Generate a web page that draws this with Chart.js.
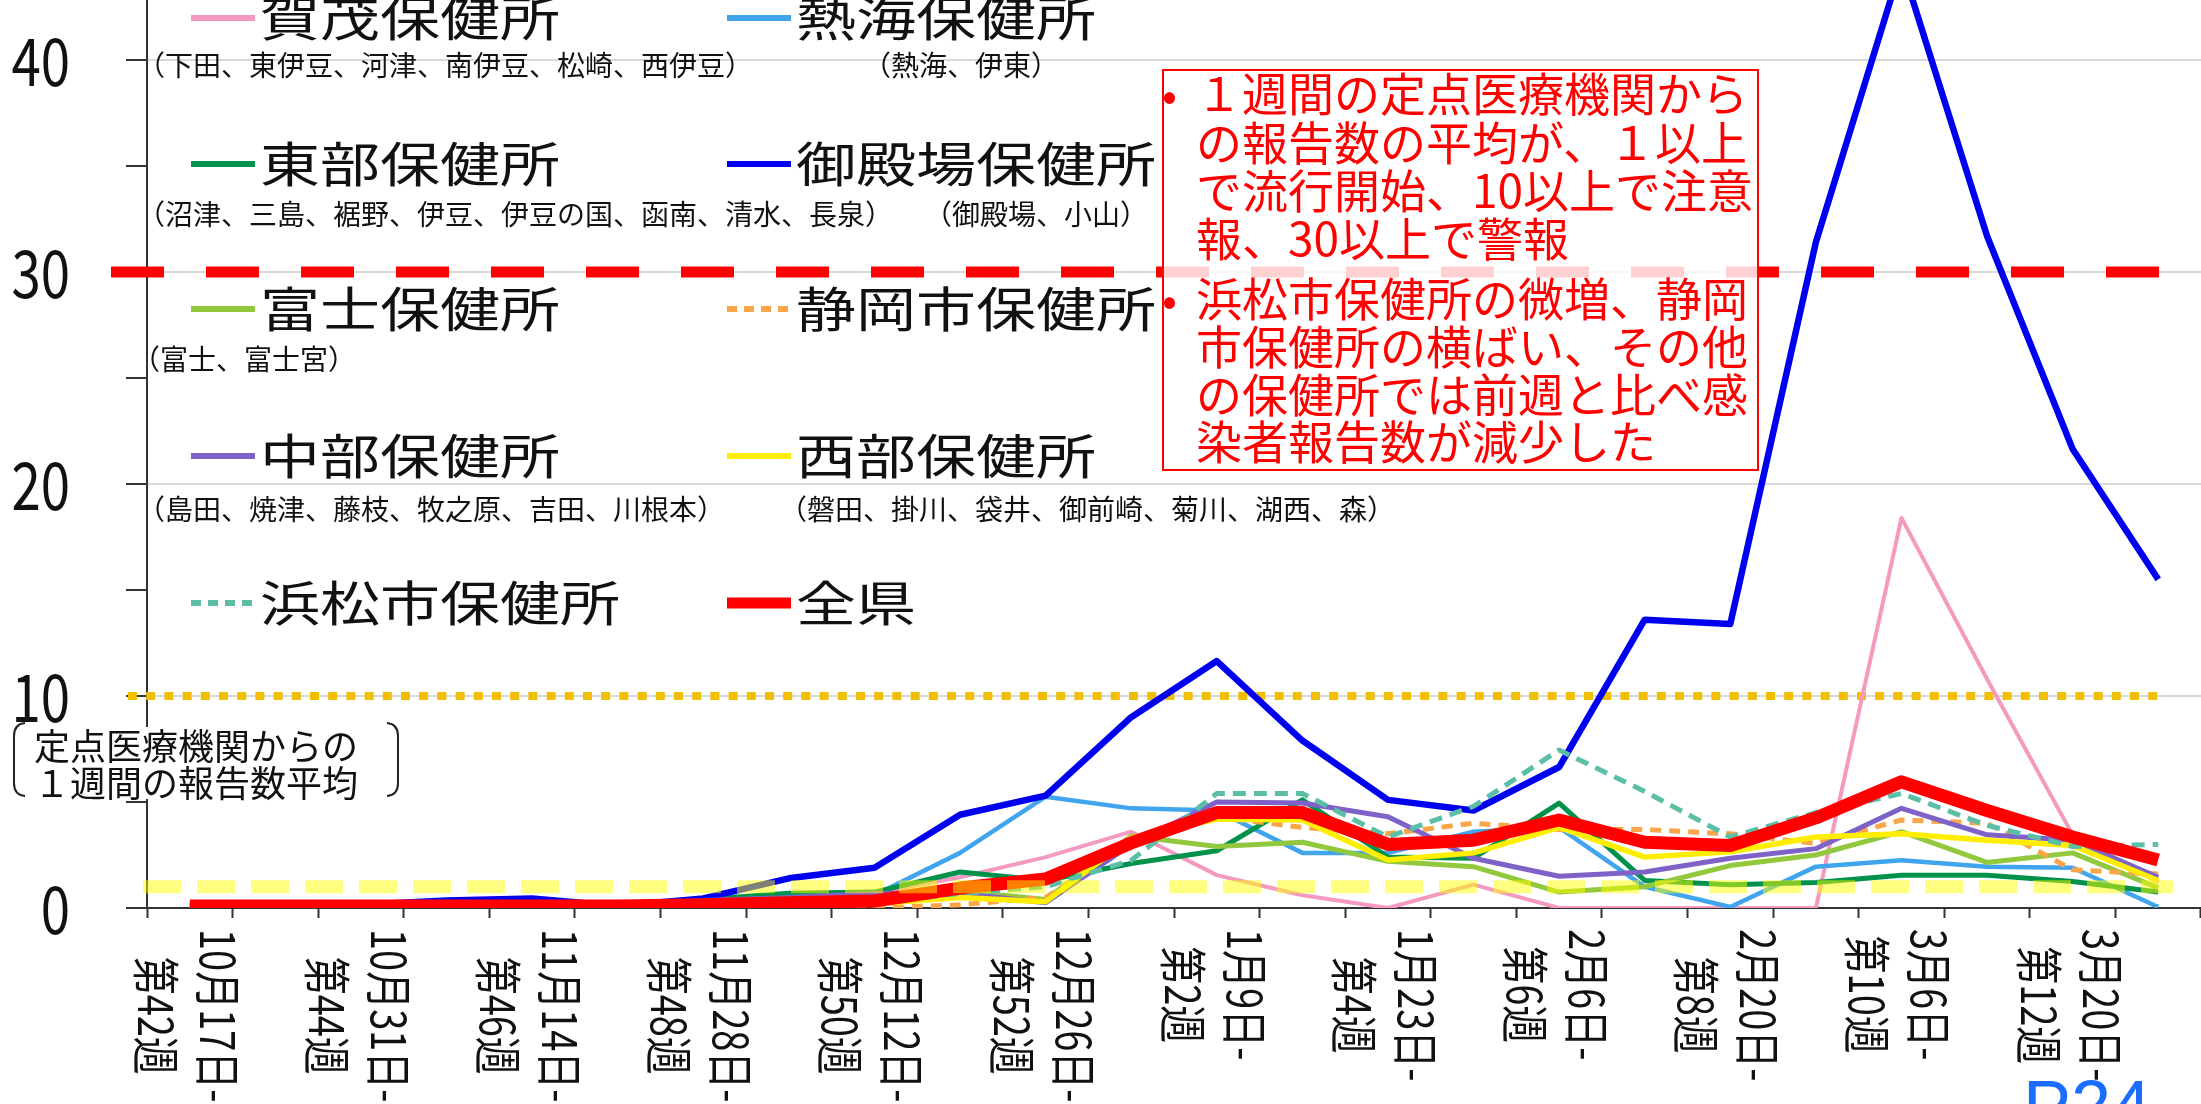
<!DOCTYPE html>
<html>
<head>
<meta charset="utf-8">
<script src="https://cdn.jsdelivr.net/npm/chart.js@4.4.1/dist/chart.umd.min.js"></script>
<style>
html, body { margin: 0; padding: 0; background: #fff; }
#wrap { width: 2201px; height: 1104px; }
</style>
</head>
<body>
<div id="wrap"><canvas id="myChart" width="2201" height="1104"></canvas></div>
<script>
//週ラベル（横軸）
const weekLabels = ['第42週','第43週','第44週','第45週','第46週','第47週','第48週','第49週','第50週','第51週','第52週',
  '第1週','第2週','第3週','第4週','第5週','第6週','第7週','第8週','第9週','第10週','第11週','第12週','第13週'];
const dateLabels = ['10月17日-','10月24日-','10月31日-','11月7日-','11月14日-','11月21日-','11月28日-','12月5日-','12月12日-','12月19日-','12月26日-',
  '1月2日-','1月9日-','1月16日-','1月23日-','1月30日-','2月6日-','2月13日-','2月20日-','2月27日-','3月6日-','3月13日-','3月20日-','3月27日-'];

// 保健所別 定点あたり報告数
const kamo      = [0,0,0,0,0,0,0,0.2,0.7,1.45,2.4,3.6,1.55,0.6,0,1.1,0,0,0,0,18.4,10.8,3.45,1.2];
const atami     = [0,0,0,0,0,0,0,0.2,0.6,2.6,5.25,4.7,4.6,2.6,2.6,3.6,3.8,1.0,0.05,1.95,2.25,1.95,1.9,0.05];
const tobu      = [0,0,0,0,0,0,0.4,0.7,0.75,1.7,1.3,2.1,2.7,5.1,2.4,2.35,4.95,1.3,1.1,1.2,1.55,1.55,1.25,0.75];
const gotemba   = [0.1,0.1,0.15,0.35,0.45,0.1,0.45,1.4,1.9,4.4,5.3,9.0,11.65,7.9,5.1,4.6,6.65,13.6,13.4,31.4,44.5,31.7,21.65,15.5];
const fuji      = [0,0,0,0,0,0,0.1,0.3,0.5,0.8,0.4,3.4,2.9,3.1,2.2,1.95,0.75,1.0,2.0,2.5,3.6,2.15,2.6,0.95];
const shizuoka  = [0,0,0,0,0,0,0,0,0,0.15,0.5,3.0,4.3,3.8,3.5,4.0,3.7,3.7,3.5,3.05,4.15,4.0,1.8,1.6];
const chubu     = [0,0,0,0,0,0.1,0.35,0.5,0.7,0.7,0.25,3.0,5.0,4.95,4.3,2.35,1.5,1.7,2.35,2.8,4.7,3.45,3.2,1.45];
const seibu     = [0,0,0,0,0,0,0,0.1,0.2,0.5,0.3,3.3,4.2,4.15,2.26,2.6,3.8,2.4,2.65,3.35,3.5,3.2,2.95,1.3];
const hamamatsu = [0,0,0,0,0,0,0,0.1,0.2,0.7,1.0,2.25,5.4,5.4,3.35,4.8,7.45,5.5,3.35,4.5,5.4,3.9,2.9,3.0];
const zenken    = [0.1,0.1,0.1,0.1,0.1,0.1,0.15,0.25,0.33,0.94,1.37,3.07,4.5,4.5,3.0,3.2,4.15,3.1,2.95,4.25,5.95,4.6,3.35,2.26];

const seriesNames = ['賀茂保健所','熱海保健所','東部保健所','御殿場保健所','富士保健所','静岡市保健所','中部保健所','西部保健所','浜松市保健所','全県'];
const areaNotes = ['（下田、東伊豆、河津、南伊豆、松崎、西伊豆）','（熱海、伊東）','（沼津、三島、裾野、伊豆、伊豆の国、函南、清水、長泉）','（御殿場、小山）',
  '（富士、富士宮）','','（島田、焼津、藤枝、牧之原、吉田、川根本）','（磐田、掛川、袋井、御前崎、菊川、湖西、森）','',''];
const yTicks = [0,5,10,15,20,25,30,35,40];
const startLevel = 1;   // 流行開始
const watchLevel = 10;  // 注意報
const warnLevel = 30;   // 警報
const noteLines = ['１週間の定点医療機関から','の報告数の平均が、１以上','で流行開始、10以上で注意','報、30以上で警報',
  '浜松市保健所の微増、静岡','市保健所の横ばい、その他','の保健所では前週と比べ感','染者報告数が減少した'];
const yTitle = ['定点医療機関からの','１週間の報告数平均'];

const JP = '"Noto Sans CJK JP", "Noto Sans", sans-serif';

const styles = [
  {color:'#F49AC1', width:4},
  {color:'#41A5EE', width:4.5},
  {color:'#00924A', width:5},
  {color:'#0000F0', width:6.5},
  {color:'#92C83E', width:5},
  {color:'#F9A548', width:5, dash:[11,8]},
  {color:'#7F62C8', width:5},
  {color:'#FFEE00', width:5.5},
  {color:'#5BBFA8', width:5, dash:[13,8]},
  {color:'#FF0000', width:13}
];
const allData = [kamo, atami, tobu, gotemba, fuji, shizuoka, chubu, seibu, hamamatsu, zenken];

function makeDatasets() {
  let sets = [];
  for (let i = 0; i < allData.length; i++) {
    let s = styles[i];
    sets.push({
      label: seriesNames[i],
      data: allData[i],
      borderColor: s.color,
      backgroundColor: s.color,
      borderWidth: s.width,
      borderDash: s.dash || [],
      pointRadius: 0,
      tension: 0,
      fill: false,
      borderJoinStyle: 'round',
      order: allData.length - i
    });
  }
  return sets;
}

function hLine(ctx, y, x1, x2, color, width, dash) {
  ctx.save();
  ctx.strokeStyle = color;
  ctx.lineWidth = width;
  ctx.setLineDash(dash);
  ctx.beginPath();
  ctx.moveTo(x1, y);
  ctx.lineTo(x2, y);
  ctx.stroke();
  ctx.restore();
}

function stretchText(ctx, text, x, y, sx) {
  ctx.save();
  ctx.translate(x, y);
  ctx.scale(sx, 1);
  ctx.fillText(text, 0, 0);
  ctx.restore();
}

// しきい値の線（データの下）と縦軸の目盛り数字
const levelsBelow = {
  id: 'levelsBelow',
  beforeDatasetsDraw(chart) {
    const ctx = chart.ctx;
    const ys = chart.scales.y;
    hLine(ctx, ys.getPixelForValue(watchLevel), 128, 2166, '#F2BE00', 8, [9, 9.2]);
    hLine(ctx, ys.getPixelForValue(warnLevel), 111, 2160, '#FF0000', 11, [53, 42]);

    ctx.save();
    ctx.fillStyle = '#111';
    ctx.font = '66px ' + JP;
    ctx.textAlign = 'right';
    ctx.textBaseline = 'middle';
    for (let v of yTicks) {
      if (v % 10 !== 0) continue;
      stretchText(ctx, String(v), 70, ys.getPixelForValue(v) + 1, 0.8);
    }
    ctx.restore();
  }
};

const overlays = {
  id: 'overlays',
  afterDatasetsDraw(chart) {
    const ctx = chart.ctx;
    const ys = chart.scales.y;
    const xs = chart.scales.x;
    // 流行開始の線（半透明）
    hLine(ctx, ys.getPixelForValue(startLevel), 143, 2173, 'rgba(255,255,0,0.5)', 13, [38, 16]);

    // 凡例
    const colX = [191, 727];
    const rowY = [18, 164, 309, 456, 603];
    const notePos = [[137,65],[863,65],[137,214],[924,214],[132,359],null,[137,509],[779,509],null,null];
    ctx.save();
    for (let i = 0; i < seriesNames.length; i++) {
      let col = i % 2, row = Math.floor(i / 2);
      let s = styles[i];
      let lx = colX[col], ly = rowY[row];
      let lw = i === 9 ? 11 : 6;
      hLine(ctx, ly, lx, lx + 64, s.color, lw, s.dash ? [10, 7] : []);
      ctx.fillStyle = '#111';
      ctx.font = '48px ' + JP;
      ctx.textAlign = 'left';
      ctx.textBaseline = 'middle';
      stretchText(ctx, seriesNames[i], lx + 69, ly, 1.25);
      if (notePos[i]) {
        ctx.font = '28px ' + JP;
        ctx.fillText(areaNotes[i], notePos[i][0], notePos[i][1]);
      }
    }
    ctx.restore();

    // 注記ボックス
    ctx.save();
    ctx.fillStyle = 'rgba(255,255,255,0.82)';
    ctx.fillRect(1163, 70, 595, 400);
    ctx.strokeStyle = '#FF0000';
    ctx.lineWidth = 2;
    ctx.strokeRect(1163, 70, 595, 400);
    ctx.fillStyle = '#FF0000';
    ctx.font = '46px ' + JP;
    ctx.textAlign = 'left';
    ctx.textBaseline = 'middle';
    const noteY = [94, 143, 191, 239, 299, 347, 395, 442];
    for (let i = 0; i < noteLines.length; i++) {
      ctx.fillText(noteLines[i], 1196, noteY[i]);
    }
    ctx.font = '44px ' + JP;
    ctx.fillText('•', 1162, noteY[0]);
    ctx.fillText('•', 1162, noteY[4]);
    ctx.restore();

    // 縦軸の説明
    ctx.save();
    ctx.fillStyle = '#fff';
    ctx.fillRect(30, 727, 345, 72);
    ctx.fillStyle = '#111';
    ctx.font = '36px ' + JP;
    ctx.textAlign = 'left';
    ctx.textBaseline = 'middle';
    ctx.fillText(yTitle[0], 34, 746);
    ctx.fillText(yTitle[1], 34, 783);
    ctx.strokeStyle = '#222';
    ctx.lineWidth = 2;
    ctx.beginPath();
    ctx.moveTo(25, 723); ctx.quadraticCurveTo(14, 724, 14, 736);
    ctx.lineTo(14, 783); ctx.quadraticCurveTo(14, 795, 25, 796);
    ctx.moveTo(387, 723); ctx.quadraticCurveTo(398, 724, 398, 736);
    ctx.lineTo(398, 783); ctx.quadraticCurveTo(398, 795, 387, 796);
    ctx.stroke();
    ctx.restore();

    // 横軸ラベル（縦書き風）
    ctx.save();
    ctx.fillStyle = '#111';
    ctx.font = '38px ' + JP;
    ctx.textAlign = 'center';
    ctx.textBaseline = 'middle';
    const top = 929;
    for (let i = 0; i < dateLabels.length; i += 2) {
      let x = xs.getPixelForValue(i);
      let len = Math.max(ctx.measureText(dateLabels[i]).width, ctx.measureText(weekLabels[i]).width);
      drawVert(ctx, dateLabels[i], x + 28, top + len / 2);
      drawVert(ctx, weekLabels[i], x - 34, top + len / 2);
    }
    ctx.restore();

    // ページ番号
    ctx.save();
    ctx.fillStyle = '#1A6DFF';
    ctx.font = '72px "Liberation Sans", Arial, sans-serif';
    ctx.textAlign = 'left';
    ctx.textBaseline = 'alphabetic';
    ctx.fillText('P24', 2023, 1131);
    ctx.restore();
  }
};

function drawVert(ctx, text, x, y) {
  ctx.save();
  ctx.translate(x, y);
  ctx.scale(1.25, 1);
  ctx.rotate(Math.PI / 2);
  ctx.fillText(text, 0, 0);
  ctx.restore();
}

function Place() {
  const ctx = document.getElementById('myChart');
  new Chart(ctx, {
    type: 'line',
    data: {
      labels: weekLabels,
      datasets: makeDatasets()
    },
    options: {
      responsive: false,
      animation: false,
      devicePixelRatio: 1,
      layout: { padding: 0 },
      plugins: {
        legend: { display: false },
        tooltip: { enabled: false }
      },
      scales: {
        x: {
          offset: true,
          grid: { offset: true, drawOnChartArea: false, drawTicks: true, tickLength: 10, tickColor: '#333', tickWidth: 2 },
          border: { display: true, color: '#333', width: 2 },
          ticks: { display: false, autoSkip: false },
          afterFit(axis) {
            axis.height = 196;
            axis.paddingLeft = 0;
            axis.paddingRight = 0;
          }
        },
        y: {
          min: 0,
          max: 42.83,
          afterBuildTicks(axis) { axis.ticks = yTicks.map(v => ({ value: v })); },
          grid: {
            color: c => (c.tick && c.tick.value % 10 === 0) ? '#D9D9D9' : 'rgba(0,0,0,0)',
            tickColor: '#333',
            tickLength: 21,
            lineWidth: 2
          },
          border: { display: true, color: '#333', width: 2 },
          ticks: { display: false },
          afterFit(axis) {
            axis.width = 147;
            axis.paddingTop = 0;
            axis.paddingBottom = 0;
          }
        }
      }
    },
    plugins: [levelsBelow, overlays]
  });
}

Place();
</script>
</body>
</html>
